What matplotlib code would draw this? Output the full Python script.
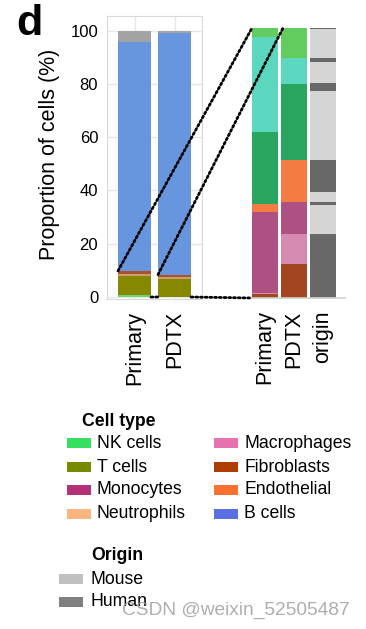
import matplotlib
matplotlib.use('Agg')
import matplotlib.pyplot as plt
from matplotlib.patches import ConnectionPatch, Rectangle
import numpy as np

plt.rcParams['font.family'] = ['Liberation Sans', 'DejaVu Sans']

# ---- data -------------------------------------------------------------
samples = ['Primary', 'PDTX']
# left panel, stacked from the bottom (percent of all cells)
left_segments = ['NK cells', 'T cells', 'Neutrophils', 'Fibroblasts', 'B cells', 'Other']
left_colors = ['#6fd46c', '#868800', '#cf9c72', '#a9532c', '#6796df', '#a3a3a3']
left_primary = [0.9, 7.0, 0.85, 1.05, 85.9, 4.3]
left_pdtx = [0.0, 6.9, 0.6, 0.9, 90.9, 0.7]

# right panel: non B-cell fraction rescaled to 100 %
right_labels = ['Primary', 'PDTX', 'origin']
right_segments = ['Fibroblasts', 'Macrophages', 'Monocytes', 'Endothelial',
                  'Other 1', 'Other 2', 'Other 3']
right_colors = ['#a3461f', '#d689b1', '#ad5183', '#f47b42',
                '#28a55e', '#5bd6bf', '#62cc5e']
right_primary = [1.5, 0.4, 29.9, 3.1, 26.6, 35.3, 3.2]
right_pdtx = [12.5, 11.1, 11.9, 15.6, 28.2, 9.7, 11.0]

# origin bar (alternating human / mouse blocks, from the bottom)
origin_kind = ['Human', 'Mouse', 'Human', 'Mouse', 'Human', 'Mouse',
               'Human', 'Mouse', 'Human', 'Mouse', 'Human']
origin_vals = [23.6, 10.8, 1.1, 3.7, 11.9, 25.6, 3.0, 7.8, 1.5, 10.6, 0.4]
origin_bar_colors = {'Human': '#686868', 'Mouse': '#d5d5d5'}

# legends
cell_types = ['NK cells', 'T cells', 'Monocytes', 'Neutrophils',
              'Macrophages', 'Fibroblasts', 'Endothelial', 'B cells']
cell_type_colors = ['#35e060', '#778b00', '#b33277', '#fbb580',
                    '#e872b0', '#b03e02', '#fa7030', '#5b6fe0']
origins = ['Mouse', 'Human']
origin_colors = ['#c0c0c0', '#808080']

W, H = 366, 629


def fx(px):
    return px / W


def fy(py):
    return 1 - py / H


fig = plt.figure(figsize=(W / 100, H / 100), dpi=100)

# ---- left panel -------------------------------------------------------
ax1 = fig.add_axes([fx(107), fy(299), 95 / W, 283 / H])
xl = np.arange(len(samples))
wl = 0.825
for vals_i, x in zip([left_primary, left_pdtx], xl):
    bottom = 0
    for v, c in zip(vals_i, left_colors):
        ax1.bar(x, v, wl, bottom=bottom, color=c, linewidth=0)
        bottom += v

ax1.set_xlim(-0.6875, 1.6875)
ax1.set_ylim(-0.75, 105.5)
ax1.set_yticks([0, 20, 40, 60, 80, 100])
ax1.set_xticks(xl, samples, rotation=90)
ax1.tick_params(axis='y', length=0, pad=6.3, labelsize=12)
ax1.tick_params(axis='x', length=0, pad=8.5, labelsize=15.5)
ax1.grid(True, color='#e6e6e6', linewidth=1)
ax1.set_axisbelow(True)
for s in ax1.spines.values():
    s.set_color('#d9d9d9')
ax1.set_ylabel('Proportion of cells (%)', fontsize=15.5)
ax1.yaxis.set_label_coords(-0.5, 0.51)

# ---- right panel ------------------------------------------------------
ax2 = fig.add_axes([fx(251), fy(298), 94 / W, 270 / H])
xr = np.arange(len(right_labels))
wr = 0.897
for vals_i, x in zip([right_primary, right_pdtx], xr[:2]):
    bottom = 0
    for v, c in zip(vals_i, right_colors):
        ax2.bar(x, v, wr, bottom=bottom, color=c, linewidth=0)
        bottom += v
bottom = 0
for k, v in zip(origin_kind, origin_vals):
    ax2.bar(xr[2], v, wr, bottom=bottom, color=origin_bar_colors[k], linewidth=0)
    bottom += v

ax2.set_xlim(-0.483, 2.759)
ax2.set_ylim(0, 100)
ax2.set_yticks([])
ax2.set_xticks(xr, right_labels, rotation=90)
ax2.tick_params(axis='x', length=0, pad=9, labelsize=15.5)
for side in ['left', 'right', 'top']:
    ax2.spines[side].set_visible(False)
ax2.spines['bottom'].set_color('#d0d0d0')
ax2.spines['bottom'].set_linewidth(1.2)

# ---- dotted zoom connectors ----------------------------------------
dot = dict(color='black', linewidth=2.0, linestyle=(0, (0.7, 1.0)))
top_p = sum(left_primary[:4])
top_d = sum(left_pdtx[:4])
fig.add_artist(ConnectionPatch(xyA=(xl[0] - wl / 2, top_p), coordsA=ax1.transData,
                               xyB=(xr[0] - wr / 2, 100), coordsB=ax2.transData, **dot))
fig.add_artist(ConnectionPatch(xyA=(xl[1] - wl / 2, top_d), coordsA=ax1.transData,
                               xyB=(xr[1] - wr / 2 + 0.07, 100), coordsB=ax2.transData, **dot))
fig.add_artist(ConnectionPatch(xyA=(xl[0] + wl / 2, 0), coordsA=ax1.transData,
                               xyB=(xl[1] - wl / 2, 0), coordsB=ax1.transData, **dot))
fig.add_artist(ConnectionPatch(xyA=(xl[1] + wl / 2, 0), coordsA=ax1.transData,
                               xyB=(xr[0] - wr / 2, 0), coordsB=ax2.transData, **dot))

# ---- panel letter -----------------------------------------------------
fig.text(fx(16), fy(35), 'd', fontsize=31, fontweight='bold', va='baseline')

# ---- legends ----------------------------------------------------------
lab_fs = 12.7
fig.text(fx(82), fy(421), 'Cell type', fontsize=lab_fs, fontweight='bold', va='center')
rows = [443, 467, 490, 514]
for i, (name, c) in enumerate(zip(cell_types, cell_type_colors)):
    col, row = divmod(i, 4)
    px0 = 67 if col == 0 else 214
    py = rows[row]
    fig.add_artist(Rectangle((fx(px0), fy(py + 5)), 24 / W, 10 / H,
                             transform=fig.transFigure, color=c, linewidth=0))
    fig.text(fx(px0 + 30), fy(py), name, fontsize=lab_fs, va='center')

fig.text(fx(91), fy(555), 'Origin', fontsize=lab_fs, fontweight='bold', va='center')
for name, c, py in zip(origins, origin_colors, [579, 602]):
    fig.add_artist(Rectangle((fx(59), fy(py + 5)), 24 / W, 10 / H,
                             transform=fig.transFigure, color=c, linewidth=0))
    fig.text(fx(91), fy(py), name, fontsize=lab_fs, va='center')

# watermark from the source image
fig.text(fx(122), fy(610), 'CSDN @weixin_52505487', fontsize=13.8,
         color='#9a9a9a', alpha=0.8, va='center')

fig.savefig('out.png', dpi=100)
